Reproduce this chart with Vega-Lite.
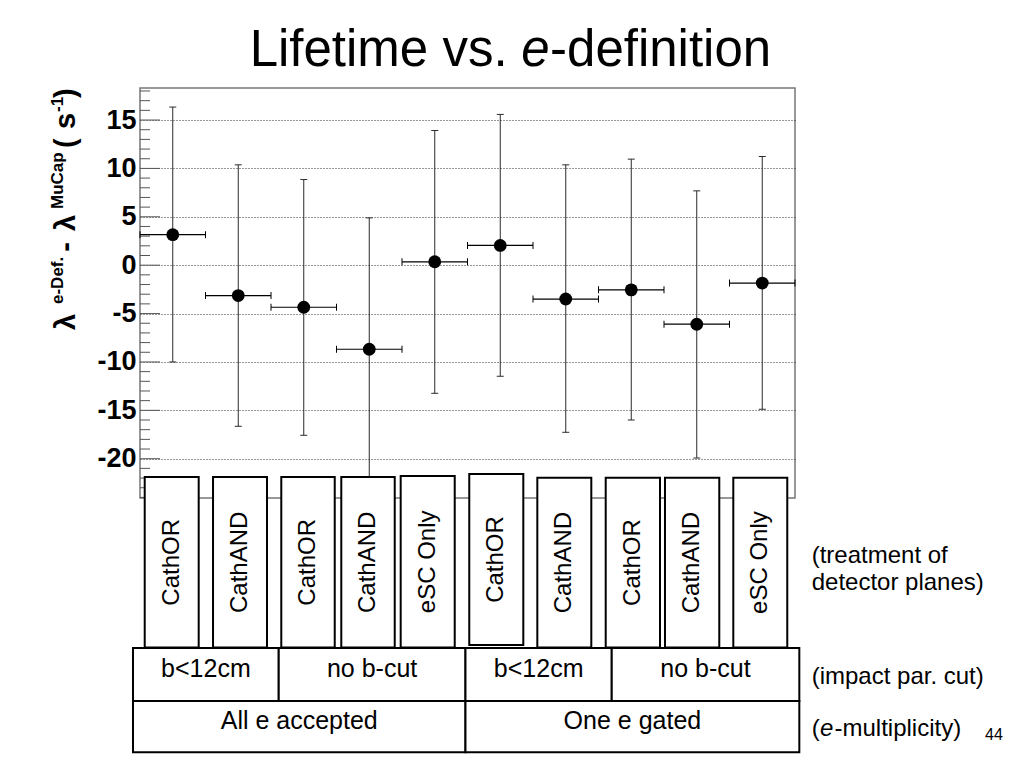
{
  "$schema": "https://vega.github.io/schema/vega-lite/v6.json",
  "description": "Lifetime vs. e-definition",
  "autosize": "none",
  "width": 655,
  "height": 410,
  "padding": {"left": 140, "top": 88, "right": 229, "bottom": 270},
  "config": {
    "view": {"stroke": "#777777", "strokeWidth": 1.5},
    "text": {"font": "Liberation Sans", "color": "black"}
  },
  "datasets": {
    "points": [
      {"bin": 1, "x": 0.5, "x_lo": 0, "x_hi": 1, "y": 3.15, "y_lo": -10.0, "y_hi": 16.34},
      {"bin": 2, "x": 1.5, "x_lo": 1, "x_hi": 2, "y": -3.14, "y_lo": -16.65, "y_hi": 10.37},
      {"bin": 3, "x": 2.5, "x_lo": 2, "x_hi": 3, "y": -4.35, "y_lo": -17.58, "y_hi": 8.85},
      {"bin": 4, "x": 3.5, "x_lo": 3, "x_hi": 4, "y": -8.69, "y_lo": -22.27, "y_hi": 4.89},
      {"bin": 5, "x": 4.5, "x_lo": 4, "x_hi": 5, "y": 0.35, "y_lo": -13.24, "y_hi": 13.92},
      {"bin": 6, "x": 5.5, "x_lo": 5, "x_hi": 6, "y": 2.04, "y_lo": -11.48, "y_hi": 15.58},
      {"bin": 7, "x": 6.5, "x_lo": 6, "x_hi": 7, "y": -3.5, "y_lo": -17.27, "y_hi": 10.37},
      {"bin": 8, "x": 7.5, "x_lo": 7, "x_hi": 8, "y": -2.55, "y_lo": -16.0, "y_hi": 10.96},
      {"bin": 9, "x": 8.5, "x_lo": 8, "x_hi": 9, "y": -6.1, "y_lo": -19.93, "y_hi": 7.68},
      {"bin": 10, "x": 9.5, "x_lo": 9, "x_hi": 10, "y": -1.85, "y_lo": -14.89, "y_hi": 11.23}
    ],
    "major_ticks": [
      {"v": -20}, {"v": -15}, {"v": -10}, {"v": -5}, {"v": 0}, {"v": 5}, {"v": 10}, {"v": 15}
    ],
    "minor_ticks": [
      {"v": 18}, {"v": 17}, {"v": 16}, {"v": 14}, {"v": 13}, {"v": 12}, {"v": 11},
      {"v": 9}, {"v": 8}, {"v": 7}, {"v": 6}, {"v": 4}, {"v": 3}, {"v": 2}, {"v": 1},
      {"v": -1}, {"v": -2}, {"v": -3}, {"v": -4}, {"v": -6}, {"v": -7}, {"v": -8}, {"v": -9},
      {"v": -11}, {"v": -12}, {"v": -13}, {"v": -14}, {"v": -16}, {"v": -17}, {"v": -18}, {"v": -19},
      {"v": -21}, {"v": -22}, {"v": -23}, {"v": -24}
    ],
    "boxes": [
      {"x0": 0.072, "x1": 0.896, "y0": 2.02, "y1": 5.31, "xc": 0.484, "yc": 3.665, "label": "CathOR"},
      {"x0": 1.115, "x1": 1.939, "y0": 2.02, "y1": 5.31, "xc": 1.527, "yc": 3.665, "label": "CathAND"},
      {"x0": 2.157, "x1": 2.973, "y0": 2.02, "y1": 5.31, "xc": 2.565, "yc": 3.665, "label": "CathOR"},
      {"x0": 3.073, "x1": 3.889, "y0": 2.02, "y1": 5.31, "xc": 3.481, "yc": 3.665, "label": "CathAND"},
      {"x0": 3.98, "x1": 4.805, "y0": 2.02, "y1": 5.33, "xc": 4.393, "yc": 3.675, "label": "eSC Only"},
      {"x0": 5.027, "x1": 5.852, "y0": 2.07, "y1": 5.37, "xc": 5.44, "yc": 3.72, "label": "CathOR"},
      {"x0": 6.066, "x1": 6.89, "y0": 2.02, "y1": 5.3, "xc": 6.478, "yc": 3.66, "label": "CathAND"},
      {"x0": 7.11, "x1": 7.939, "y0": 2.02, "y1": 5.3, "xc": 7.525, "yc": 3.66, "label": "CathOR"},
      {"x0": 8.015, "x1": 8.844, "y0": 2.02, "y1": 5.3, "xc": 8.43, "yc": 3.66, "label": "CathAND"},
      {"x0": 9.058, "x1": 9.882, "y0": 2.02, "y1": 5.3, "xc": 9.47, "yc": 3.66, "label": "eSC Only"}
    ],
    "cells": [
      {"x0": -0.107, "x1": 2.118, "y0": 0.99, "y1": 2.01, "xc": 1.006, "yb": 1.452, "label": "b<12cm"},
      {"x0": 2.118, "x1": 4.969, "y0": 0.99, "y1": 2.01, "xc": 3.544, "yb": 1.452, "label": "no b-cut"},
      {"x0": 4.969, "x1": 7.202, "y0": 0.99, "y1": 2.01, "xc": 6.086, "yb": 1.452, "label": "b<12cm"},
      {"x0": 7.202, "x1": 10.066, "y0": 0.99, "y1": 2.01, "xc": 8.634, "yb": 1.452, "label": "no b-cut"},
      {"x0": -0.107, "x1": 4.969, "y0": 0, "y1": 0.99, "xc": 2.431, "yb": 0.44, "label": "All e accepted"},
      {"x0": 4.969, "x1": 10.066, "y0": 0, "y1": 0.99, "xc": 7.518, "yb": 0.44, "label": "One e gated"}
    ],
    "notes": [
      {"x": 10.255, "y": 3.647, "text": "(treatment of"},
      {"x": 10.255, "y": 3.131, "text": "detector planes)"},
      {"x": 10.255, "y": 1.317, "text": "(impact par. cut)"},
      {"x": 10.255, "y": 0.319, "text": "("},
      {"x": 10.603, "y": 0.319, "text": "-multiplicity)"}
    ],
    "notes_italic": [
      {"x": 10.382, "y": 0.319, "text": "e"}
    ],
    "page": [
      {"x": 12.901, "y": 0.236, "text": "44"}
    ],
    "title": [
      {"x": 1.674, "y": 13.247, "text": "Lifetime vs."},
      {"x": 6.26, "y": 13.247, "text": "-definition"}
    ],
    "title_italic": [
      {"x": 5.82, "y": 13.247, "text": "e"}
    ],
    "ytitle_main": [
      {"x": -0.992, "y": 8.151, "text": "λ"},
      {"x": -0.992, "y": 9.66, "text": "-"},
      {"x": -0.992, "y": 10.062, "text": "λ"},
      {"x": -0.992, "y": 11.664, "text": "("},
      {"x": -0.992, "y": 12.031, "text": "s"},
      {"x": -0.992, "y": 12.629, "text": ")"}
    ],
    "ytitle_sup": [
      {"x": -1.183, "y": 8.652, "text": "e-Def."},
      {"x": -1.183, "y": 10.487, "text": "MuCap"},
      {"x": -1.183, "y": 12.359, "text": "-1"}
    ]
  },
  "layer": [
    {
      "layer": [
        {
          "data": {"name": "major_ticks"},
          "mark": {"type": "rule", "color": "#555555", "strokeWidth": 1},
          "encoding": {
            "x": {"datum": 0, "type": "quantitative", "scale": {"domain": [0, 10], "nice": false, "zero": false}, "axis": null},
            "x2": {"datum": 0.305},
            "y": {
              "field": "v",
              "type": "quantitative",
              "scale": {"domain": [-24.06, 18.31], "nice": false, "zero": false},
              "axis": {
                "title": null,
                "values": [-20, -15, -10, -5, 0, 5, 10, 15],
                "grid": true,
                "gridDash": [1, 2],
                "gridColor": "#333333",
                "gridWidth": 1,
                "gridOpacity": 1,
                "ticks": false,
                "tickSize": 0,
                "domain": false,
                "labelFont": "Liberation Sans",
                "labelFontWeight": "bold",
                "labelFontSize": 27,
                "labelColor": "black",
                "labelPadding": 4,
                "labelExpr": "replace(datum.label, '−', '-')"
              }
            }
          }
        },
        {
          "data": {"name": "minor_ticks"},
          "mark": {"type": "rule", "color": "#555555", "strokeWidth": 1},
          "encoding": {
            "x": {"datum": 0, "type": "quantitative", "scale": {"domain": [0, 10], "nice": false, "zero": false}},
            "x2": {"datum": 0.153},
            "y": {"field": "v", "type": "quantitative", "scale": {"domain": [-24.06, 18.31], "nice": false, "zero": false}}
          }
        },
        {
          "data": {"name": "points"},
          "mark": {"type": "rule", "color": "#2a2a2a", "strokeWidth": 1},
          "encoding": {
            "x": {"field": "x", "type": "quantitative", "scale": {"domain": [0, 10], "nice": false, "zero": false}},
            "y": {"field": "y_lo", "type": "quantitative", "scale": {"domain": [-24.06, 18.31], "nice": false, "zero": false}},
            "y2": {"field": "y_hi"}
          }
        },
        {
          "data": {"name": "points"},
          "mark": {"type": "rule", "color": "black", "strokeWidth": 1.2},
          "encoding": {
            "x": {"field": "x_lo", "type": "quantitative", "scale": {"domain": [0, 10], "nice": false, "zero": false}},
            "x2": {"field": "x_hi"},
            "y": {"field": "y", "type": "quantitative", "scale": {"domain": [-24.06, 18.31], "nice": false, "zero": false}}
          }
        },
        {
          "data": {"name": "points"},
          "mark": {"type": "tick", "orient": "horizontal", "size": 7, "thickness": 1, "color": "#2a2a2a", "opacity": 1},
          "encoding": {
            "x": {"field": "x", "type": "quantitative", "scale": {"domain": [0, 10], "nice": false, "zero": false}},
            "y": {"field": "y_hi", "type": "quantitative", "scale": {"domain": [-24.06, 18.31], "nice": false, "zero": false}}
          }
        },
        {
          "data": {"name": "points"},
          "mark": {"type": "tick", "orient": "horizontal", "size": 7, "thickness": 1, "color": "#2a2a2a", "opacity": 1},
          "encoding": {
            "x": {"field": "x", "type": "quantitative", "scale": {"domain": [0, 10], "nice": false, "zero": false}},
            "y": {"field": "y_lo", "type": "quantitative", "scale": {"domain": [-24.06, 18.31], "nice": false, "zero": false}}
          }
        },
        {
          "data": {"name": "points"},
          "mark": {"type": "tick", "orient": "vertical", "size": 7, "thickness": 1, "color": "black", "opacity": 1},
          "encoding": {
            "x": {"field": "x_lo", "type": "quantitative", "scale": {"domain": [0, 10], "nice": false, "zero": false}},
            "y": {"field": "y", "type": "quantitative", "scale": {"domain": [-24.06, 18.31], "nice": false, "zero": false}}
          }
        },
        {
          "data": {"name": "points"},
          "mark": {"type": "tick", "orient": "vertical", "size": 7, "thickness": 1, "color": "black", "opacity": 1},
          "encoding": {
            "x": {"field": "x_hi", "type": "quantitative", "scale": {"domain": [0, 10], "nice": false, "zero": false}},
            "y": {"field": "y", "type": "quantitative", "scale": {"domain": [-24.06, 18.31], "nice": false, "zero": false}}
          }
        },
        {
          "data": {"name": "points"},
          "mark": {"type": "circle", "size": 165, "color": "black", "opacity": 1},
          "encoding": {
            "x": {"field": "x", "type": "quantitative", "scale": {"domain": [0, 10], "nice": false, "zero": false}},
            "y": {"field": "y", "type": "quantitative", "scale": {"domain": [-24.06, 18.31], "nice": false, "zero": false}}
          }
        }
      ]
    },
    {
      "layer": [
        {
          "data": {"name": "boxes"},
          "mark": {"type": "rect", "fill": "white", "stroke": "black", "strokeWidth": 2},
          "encoding": {
            "x": {"field": "x0", "type": "quantitative", "scale": {"domain": [0, 10], "nice": false, "zero": false}},
            "x2": {"field": "x1"},
            "y": {"field": "y0", "type": "quantitative", "scale": {"domain": [4.907, 12.822], "nice": false, "zero": false}, "axis": null},
            "y2": {"field": "y1"}
          }
        },
        {
          "data": {"name": "boxes"},
          "mark": {"type": "text", "angle": 270, "fontSize": 24, "align": "center", "baseline": "middle"},
          "encoding": {
            "x": {"field": "xc", "type": "quantitative", "scale": {"domain": [0, 10], "nice": false, "zero": false}},
            "y": {"field": "yc", "type": "quantitative", "scale": {"domain": [4.907, 12.822], "nice": false, "zero": false}},
            "text": {"field": "label"}
          }
        },
        {
          "data": {"name": "cells"},
          "mark": {"type": "rect", "fill": "white", "stroke": "black", "strokeWidth": 2},
          "encoding": {
            "x": {"field": "x0", "type": "quantitative", "scale": {"domain": [0, 10], "nice": false, "zero": false}},
            "x2": {"field": "x1"},
            "y": {"field": "y0", "type": "quantitative", "scale": {"domain": [4.907, 12.822], "nice": false, "zero": false}},
            "y2": {"field": "y1"}
          }
        },
        {
          "data": {"name": "cells"},
          "mark": {"type": "text", "fontSize": 25, "align": "center", "baseline": "alphabetic"},
          "encoding": {
            "x": {"field": "xc", "type": "quantitative", "scale": {"domain": [0, 10], "nice": false, "zero": false}},
            "y": {"field": "yb", "type": "quantitative", "scale": {"domain": [4.907, 12.822], "nice": false, "zero": false}},
            "text": {"field": "label"}
          }
        },
        {
          "data": {"name": "notes"},
          "mark": {"type": "text", "fontSize": 24, "align": "left", "baseline": "alphabetic"},
          "encoding": {
            "x": {"field": "x", "type": "quantitative", "scale": {"domain": [0, 10], "nice": false, "zero": false}},
            "y": {"field": "y", "type": "quantitative", "scale": {"domain": [4.907, 12.822], "nice": false, "zero": false}},
            "text": {"field": "text"}
          }
        },
        {
          "data": {"name": "notes_italic"},
          "mark": {"type": "text", "fontSize": 24, "fontStyle": "italic", "align": "left", "baseline": "alphabetic"},
          "encoding": {
            "x": {"field": "x", "type": "quantitative", "scale": {"domain": [0, 10], "nice": false, "zero": false}},
            "y": {"field": "y", "type": "quantitative", "scale": {"domain": [4.907, 12.822], "nice": false, "zero": false}},
            "text": {"field": "text"}
          }
        },
        {
          "data": {"name": "page"},
          "mark": {"type": "text", "fontSize": 16, "align": "left", "baseline": "alphabetic"},
          "encoding": {
            "x": {"field": "x", "type": "quantitative", "scale": {"domain": [0, 10], "nice": false, "zero": false}},
            "y": {"field": "y", "type": "quantitative", "scale": {"domain": [4.907, 12.822], "nice": false, "zero": false}},
            "text": {"field": "text"}
          }
        },
        {
          "data": {"name": "title"},
          "mark": {"type": "text", "fontSize": 51, "align": "left", "baseline": "alphabetic"},
          "encoding": {
            "x": {"field": "x", "type": "quantitative", "scale": {"domain": [0, 10], "nice": false, "zero": false}},
            "y": {"field": "y", "type": "quantitative", "scale": {"domain": [4.907, 12.822], "nice": false, "zero": false}},
            "text": {"field": "text"}
          }
        },
        {
          "data": {"name": "title_italic"},
          "mark": {"type": "text", "fontSize": 51, "fontStyle": "italic", "align": "left", "baseline": "alphabetic"},
          "encoding": {
            "x": {"field": "x", "type": "quantitative", "scale": {"domain": [0, 10], "nice": false, "zero": false}},
            "y": {"field": "y", "type": "quantitative", "scale": {"domain": [4.907, 12.822], "nice": false, "zero": false}},
            "text": {"field": "text"}
          }
        },
        {
          "data": {"name": "ytitle_main"},
          "mark": {"type": "text", "angle": 270, "fontSize": 29, "fontWeight": "bold", "align": "left", "baseline": "alphabetic"},
          "encoding": {
            "x": {"field": "x", "type": "quantitative", "scale": {"domain": [0, 10], "nice": false, "zero": false}},
            "y": {"field": "y", "type": "quantitative", "scale": {"domain": [4.907, 12.822], "nice": false, "zero": false}},
            "text": {"field": "text"}
          }
        },
        {
          "data": {"name": "ytitle_sup"},
          "mark": {"type": "text", "angle": 270, "fontSize": 17, "fontWeight": "bold", "align": "left", "baseline": "alphabetic"},
          "encoding": {
            "x": {"field": "x", "type": "quantitative", "scale": {"domain": [0, 10], "nice": false, "zero": false}},
            "y": {"field": "y", "type": "quantitative", "scale": {"domain": [4.907, 12.822], "nice": false, "zero": false}},
            "text": {"field": "text"}
          }
        }
      ]
    }
  ],
  "resolve": {"scale": {"y": "independent"}}
}
